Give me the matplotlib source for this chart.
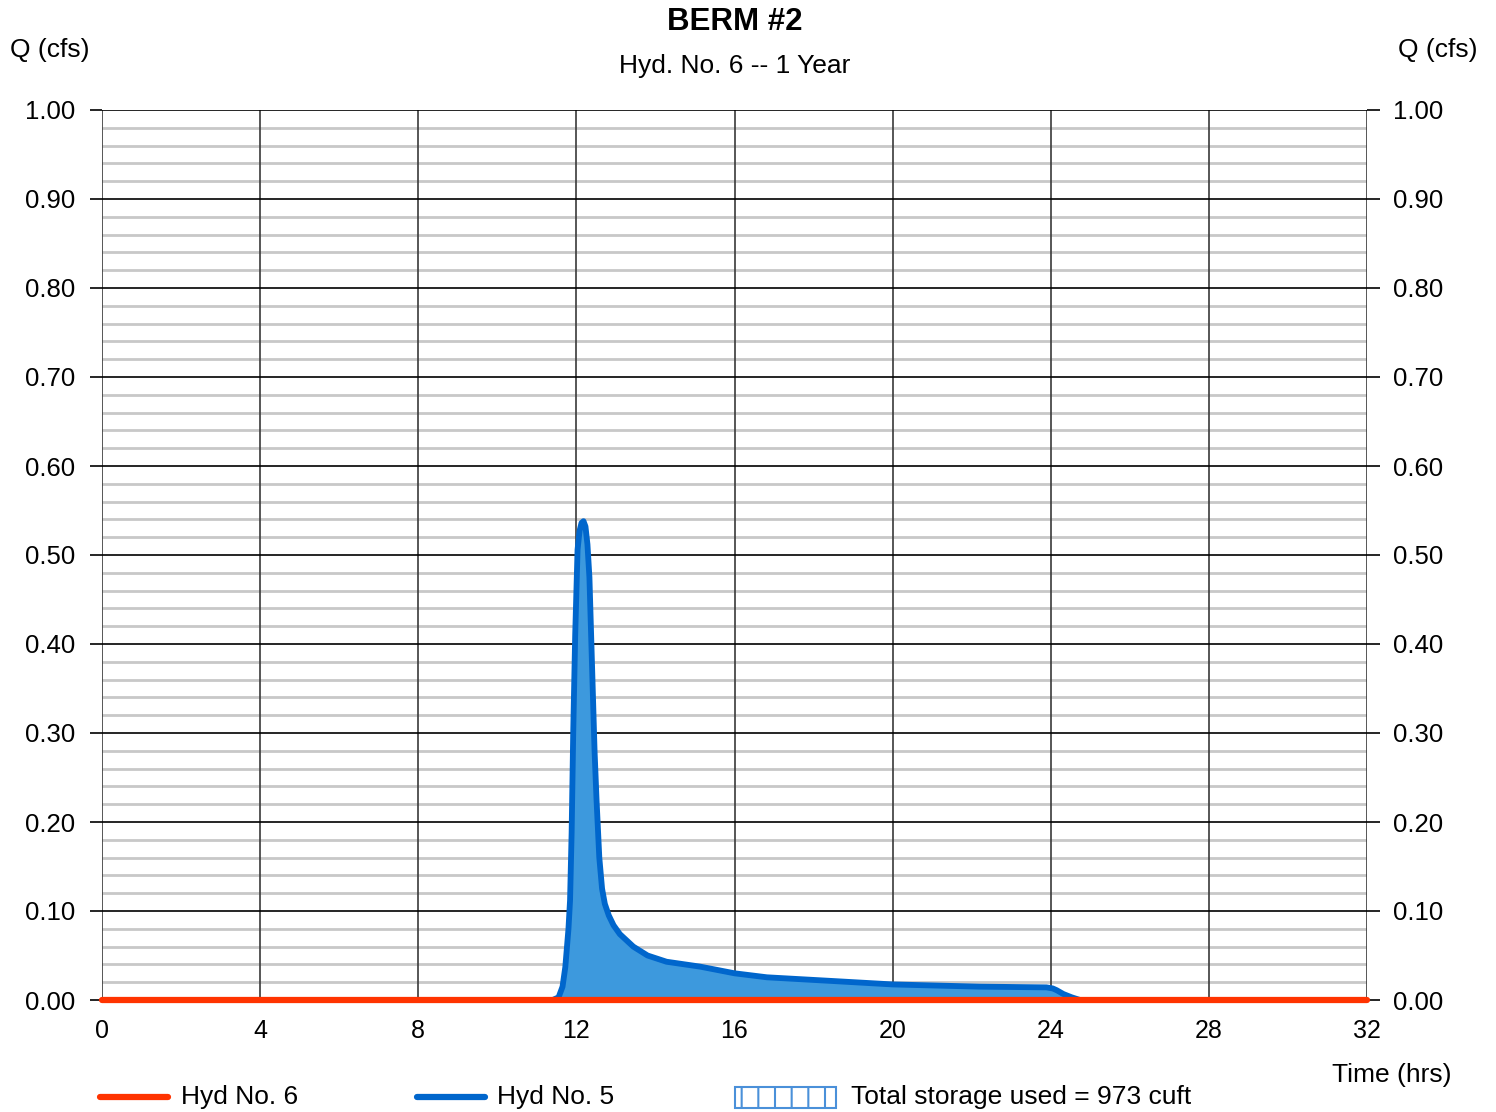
import numpy as np
import matplotlib
matplotlib.use('Agg')
import matplotlib.pyplot as plt
from matplotlib.lines import Line2D
from matplotlib.patches import Rectangle
from matplotlib.ticker import MultipleLocator

plt.rcParams['font.family'] = ['Liberation Sans', 'DejaVu Sans']
plt.rcParams['hatch.linewidth'] = 1.5

# Hyd No. 5 (inflow), hours / cfs
hyd5_t = [0, 11.4, 11.55, 11.65, 11.72, 11.8, 11.84, 11.88, 11.92, 11.97, 12.03, 12.08,
          12.13, 12.18, 12.23, 12.28, 12.33, 12.40, 12.46, 12.51, 12.58, 12.65, 12.72,
          12.82, 12.94, 13.1, 13.44, 13.8, 14.28, 15.13, 16.0, 16.82, 18.5, 20.0, 22.2,
          23.89, 24.05, 24.15, 24.32, 24.53, 24.74, 32]
hyd5_q = [0, 0, 0.003, 0.015, 0.037, 0.08, 0.112, 0.188, 0.30, 0.41, 0.506, 0.527,
          0.536, 0.538, 0.532, 0.512, 0.475, 0.37, 0.28, 0.225, 0.16, 0.125, 0.108,
          0.095, 0.084, 0.074, 0.060, 0.050, 0.043, 0.0375, 0.030, 0.0255, 0.0213,
          0.0175, 0.015, 0.0142, 0.013, 0.011, 0.0067, 0.003, 0, 0]

# Hyd No. 6 (outflow) is zero throughout
hyd6_t = [0, 32]
hyd6_q = [0, 0]

x_ticks = [0, 4, 8, 12, 16, 20, 24, 28, 32]
y_ticks = [0.0, 0.1, 0.2, 0.3, 0.4, 0.5, 0.6, 0.7, 0.8, 0.9, 1.0]

red = '#ff3300'
blue = '#0066cc'
fill_blue = '#3d99dd'

fig = plt.figure(figsize=(14.96, 11.12), dpi=100)
ax = fig.add_axes([102/1496, 1 - 1000/1112, (1367-102)/1496, (1000-110)/1112])

ax.set_xlim(0, 32)
ax.set_ylim(0, 1.0)
ax.set_xticks(x_ticks)
ax.set_yticks(y_ticks)
ax.set_yticklabels(['%.2f' % v for v in y_ticks])
ax.yaxis.set_minor_locator(MultipleLocator(0.02))

# grid: light minor lines, black majors, dark verticals on top of the minors
ax.set_axisbelow(True)
ax.grid(which='minor', axis='y', color='#c8c8c8', lw=2.0)
for x in x_ticks:
    ax.axvline(x, color='#3a3a3a', lw=1.2, zorder=1)
for y in y_ticks:
    ax.axhline(y, color='black', lw=1.2, zorder=1)

for s in ax.spines.values():
    s.set_visible(False)

ax.tick_params(axis='x', length=0, pad=14, labelsize=18)
ax.tick_params(axis='y', which='major', length=9, width=1.2, pad=10, labelsize=18.5,
               left=True, right=True, labelleft=True, labelright=True)
ax.tick_params(axis='y', which='minor', length=0)

# hydrographs
ax.fill_between(hyd5_t, hyd5_q, 0, color=fill_blue, lw=0, zorder=2)
ax.plot(hyd5_t, hyd5_q, color=blue, lw=4.2, solid_capstyle='round', solid_joinstyle='round', zorder=3)
ax.plot(hyd6_t, hyd6_q, color=red, lw=4.5, solid_capstyle='round', zorder=4, clip_on=False)

# titles and axis labels
fig.text(735/1496, 1 - 22/1112, 'BERM #2', ha='center', va='center', fontsize=22.5, fontweight='bold')
fig.text(735/1496, 1 - 66/1112, 'Hyd. No. 6 -- 1 Year', ha='center', va='center', fontsize=19)
fig.text(10/1496, 1 - 50/1112, 'Q (cfs)', ha='left', va='center', fontsize=19)
fig.text(1478/1496, 1 - 50/1112, 'Q (cfs)', ha='right', va='center', fontsize=19)
fig.text(1452/1496, 1 - 1075/1112, 'Time (hrs)', ha='right', va='center', fontsize=19)

# legend along the bottom
ly = 1 - 1097/1112
fig.add_artist(Line2D([100/1496, 168/1496], [ly, ly], color=red, lw=4.5, solid_capstyle='round'))
fig.text(181/1496, ly, 'Hyd No. 6', ha='left', va='center', fontsize=19)
fig.add_artist(Line2D([417/1496, 485/1496], [ly, ly], color=blue, lw=4.5, solid_capstyle='round'))
fig.text(497/1496, ly, 'Hyd No. 5', ha='left', va='center', fontsize=19)
fig.add_artist(Rectangle((735/1496, 1 - 1108/1112), 101/1496, 21/1112, transform=fig.transFigure,
                         facecolor='white', edgecolor='#4a90d9', hatch='|', lw=1.5))
fig.text(851/1496, ly, 'Total storage used = 973 cuft', ha='left', va='center', fontsize=19)

fig.savefig('out.png', dpi=100)
